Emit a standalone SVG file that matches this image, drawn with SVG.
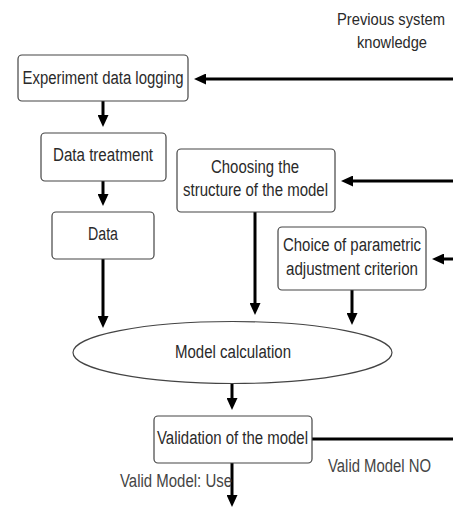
<svg xmlns="http://www.w3.org/2000/svg" width="453" height="514" viewBox="0 0 453 514">
<defs>
<marker id="arr" markerUnits="userSpaceOnUse" markerWidth="12" markerHeight="11" refX="6" refY="5.5" orient="auto">
<path d="M0,0 L12,5.5 L0,11 z" fill="#000"/>
</marker>
<style>
.box{fill:#fff;stroke:#444;stroke-width:1.2}
.t{font-family:"Liberation Sans",Arial,sans-serif;font-size:18px;fill:#2a2a2a;text-anchor:middle}
.l{font-family:"Liberation Sans",Arial,sans-serif;font-size:18px;fill:#444}
.c{stroke:#000;stroke-width:3;fill:none}
.a{marker-end:url(#arr)}
</style>
</defs>
<rect width="453" height="514" fill="#fff"/>
<g id="connectors">
<line class="c a" x1="453" y1="79" x2="200" y2="79"/>
<line class="c a" x1="103" y1="101" x2="103" y2="121"/>
<line class="c a" x1="103" y1="181" x2="103" y2="200"/>
<line class="c a" x1="103" y1="259" x2="103" y2="322"/>
<line class="c a" x1="453" y1="181" x2="347" y2="181"/>
<line class="c a" x1="255" y1="212" x2="255" y2="309"/>
<line class="c a" x1="453" y1="259" x2="438" y2="259"/>
<line class="c a" x1="352" y1="290" x2="352" y2="319"/>
<line class="c a" x1="232" y1="383" x2="232" y2="404"/>
<line class="c" x1="312" y1="439" x2="453" y2="439"/>
<line class="c a" x1="232" y1="463" x2="232" y2="501"/>
</g>
<g id="prev-knowledge">
<text class="t" x="391" y="25" style="font-size:16px" textLength="108" lengthAdjust="spacingAndGlyphs">Previous system</text>
<text class="t" x="392" y="48" style="font-size:17px" textLength="70" lengthAdjust="spacingAndGlyphs">knowledge</text>
</g>
<g id="experiment">
<rect class="box" x="18" y="55" width="170" height="46" rx="4"/>
<text class="t" x="103" y="84" textLength="161" lengthAdjust="spacingAndGlyphs">Experiment data logging</text>
</g>
<g id="data-treatment">
<rect class="box" x="41" y="133" width="125" height="48" rx="4"/>
<text class="t" x="103" y="161" textLength="100" lengthAdjust="spacingAndGlyphs">Data treatment</text>
</g>
<g id="data">
<rect class="box" x="52" y="212" width="102" height="47" rx="4"/>
<text class="t" x="103" y="240" textLength="30" lengthAdjust="spacingAndGlyphs">Data</text>
</g>
<g id="structure">
<rect class="box" x="177" y="149" width="158" height="63" rx="4"/>
<text class="t" x="255" y="173" textLength="88" lengthAdjust="spacingAndGlyphs">Choosing the</text>
<text class="t" x="255.5" y="196" textLength="145" lengthAdjust="spacingAndGlyphs">structure of the model</text>
</g>
<g id="criterion">
<rect class="box" x="278" y="227" width="148" height="63" rx="4"/>
<text class="t" x="352" y="251" textLength="138" lengthAdjust="spacingAndGlyphs">Choice of parametric</text>
<text class="t" x="352" y="275" textLength="132" lengthAdjust="spacingAndGlyphs">adjustment criterion</text>
</g>
<g id="model-calculation">
<ellipse class="box" cx="232.5" cy="352.5" rx="159.5" ry="31"/>
<text class="t" x="233" y="358" textLength="116" lengthAdjust="spacingAndGlyphs">Model calculation</text>
</g>
<g id="validation">
<rect class="box" x="154" y="416" width="158" height="47" rx="4"/>
<text class="t" x="232.5" y="444" textLength="151" lengthAdjust="spacingAndGlyphs">Validation of the model</text>
</g>
<g id="labels">
<text class="l" x="328" y="472" textLength="103" lengthAdjust="spacingAndGlyphs">Valid Model NO</text>
<text class="l" x="120" y="487" textLength="112" lengthAdjust="spacingAndGlyphs">Valid Model: Use</text>
</g>
</svg>
